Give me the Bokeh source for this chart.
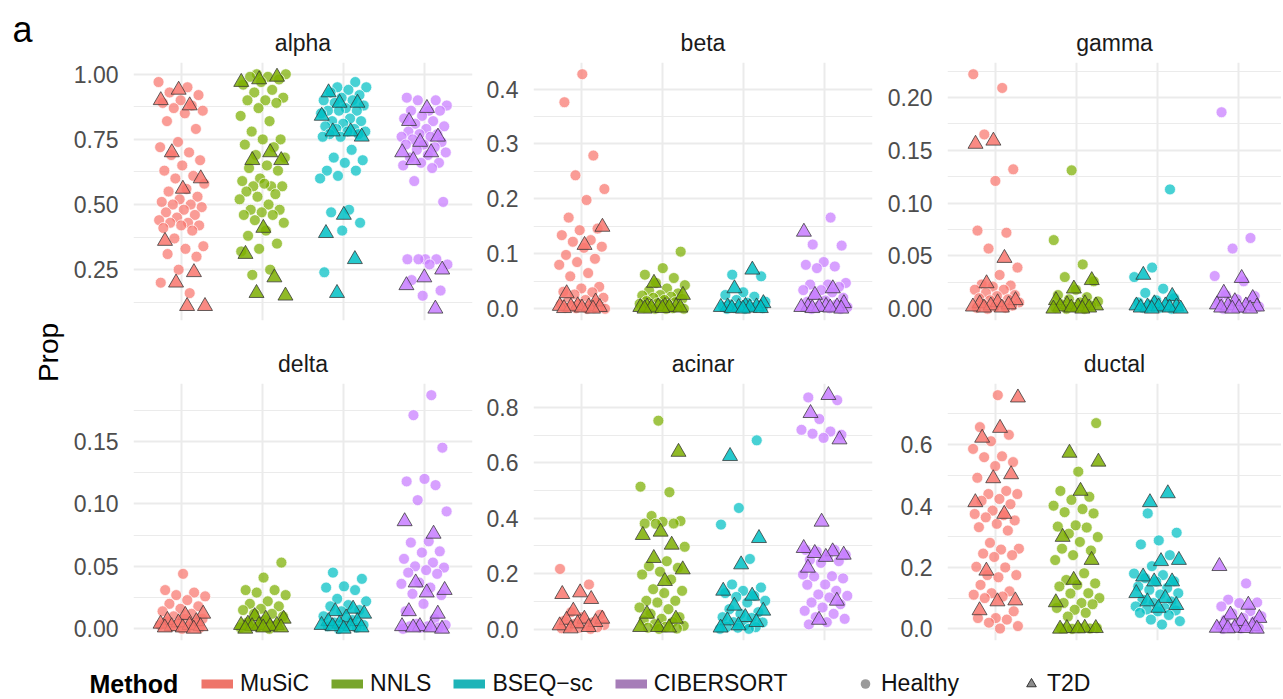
from bokeh.plotting import figure
from bokeh.models import (Range1d, FixedTicker, PrintfTickFormatter, Label, Legend,
                          LegendItem, ColumnDataSource)
from bokeh.layouts import row, column
from bokeh.embed import file_html
from bokeh.resources import INLINE

# ---------------------------------------------------------------- data
methods = ["MuSiC", "NNLS", "BSEQ\u2212sc", "CIBERSORT"]
groups = ["Healthy", "T2D"]
cell_types = ["alpha", "beta", "gamma", "delta", "acinar", "ductal"]

alpha_music_h = [0.97, 0.95, 0.93, 0.92, 0.90, 0.89, 0.88, 0.87, 0.86, 0.85, 0.82, 0.79, 0.74, 0.72, 0.70, 0.69, 0.67, 0.65, 0.63, 0.61, 0.60, 0.58, 0.56, 0.55, 0.53, 0.52, 0.51, 0.50, 0.50, 0.49, 0.48, 0.47, 0.46, 0.45, 0.44, 0.43, 0.43, 0.42, 0.42, 0.41, 0.40, 0.37, 0.34, 0.33, 0.31, 0.30, 0.25, 0.20, 0.16]
alpha_music_t = [0.94, 0.90, 0.88, 0.70, 0.60, 0.56, 0.36, 0.24, 0.20, 0.11, 0.11]
alpha_nnls_h = [1.00, 1.00, 0.99, 0.99, 0.98, 0.97, 0.96, 0.94, 0.93, 0.91, 0.90, 0.90, 0.89, 0.87, 0.84, 0.82, 0.78, 0.75, 0.75, 0.73, 0.72, 0.69, 0.68, 0.65, 0.64, 0.63, 0.60, 0.59, 0.57, 0.57, 0.57, 0.58, 0.55, 0.54, 0.53, 0.52, 0.50, 0.48, 0.48, 0.47, 0.46, 0.46, 0.44, 0.43, 0.40, 0.38, 0.35, 0.33, 0.32, 0.25, 0.23]
alpha_nnls_t = [0.99, 0.98, 0.97, 0.70, 0.67, 0.67, 0.41, 0.31, 0.22, 0.16, 0.15]
alpha_bseq_h = [0.97, 0.95, 0.95, 0.94, 0.93, 0.92, 0.91, 0.90, 0.90, 0.89, 0.88, 0.87, 0.86, 0.86, 0.86, 0.85, 0.83, 0.82, 0.82, 0.81, 0.80, 0.79, 0.79, 0.78, 0.78, 0.77, 0.77, 0.76, 0.76, 0.71, 0.68, 0.67, 0.66, 0.63, 0.63, 0.61, 0.60, 0.48, 0.47, 0.43, 0.40, 0.24]
alpha_bseq_t = [0.93, 0.89, 0.89, 0.84, 0.78, 0.78, 0.76, 0.46, 0.39, 0.29, 0.16]
alpha_cib_h = [0.91, 0.90, 0.90, 0.88, 0.86, 0.86, 0.86, 0.84, 0.83, 0.82, 0.81, 0.80, 0.79, 0.78, 0.77, 0.77, 0.76, 0.76, 0.75, 0.74, 0.73, 0.73, 0.72, 0.71, 0.70, 0.69, 0.68, 0.66, 0.66, 0.65, 0.64, 0.59, 0.51, 0.29, 0.29, 0.29, 0.29, 0.27, 0.27, 0.21, 0.17, 0.15]
alpha_cib_t = [0.87, 0.82, 0.76, 0.74, 0.70, 0.70, 0.67, 0.25, 0.22, 0.19, 0.10]

beta_music_h = [0.427, 0.376, 0.279, 0.243, 0.218, 0.198, 0.166, 0.146, 0.143, 0.134, 0.125, 0.122, 0.113, 0.111, 0.098, 0.091, 0.085, 0.080, 0.065, 0.059, 0.040, 0.037, 0.031, 0.030, 0.026, 0.020, 0.016, 0.013, 0.011, 0.009, 0.008, 0.006, 0.005, 0.004, 0.003, 0.002, 0.001, 0.001, 0.0, 0.0]
beta_music_t = [0.149, 0.116, 0.028, 0.013, 0.006, 0.005, 0.004, 0.004, 0.003, 0.002, 0.001, 0.0]
beta_nnls_h = [0.104, 0.074, 0.062, 0.056, 0.047, 0.043, 0.037, 0.033, 0.028, 0.025, 0.024, 0.022, 0.020, 0.018, 0.016, 0.014, 0.012, 0.010, 0.009, 0.007, 0.005, 0.004, 0.003, 0.002, 0.001, 0.0, 0.0, 0.0]
beta_nnls_t = [0.047, 0.025, 0.005, 0.004, 0.004, 0.004, 0.003, 0.003, 0.002, 0.002, 0.001, 0.0]
beta_bseq_h = [0.062, 0.059, 0.030, 0.025, 0.022, 0.016, 0.013, 0.011, 0.008, 0.006, 0.005, 0.004, 0.003, 0.002, 0.001, 0.0, 0.0]
beta_bseq_t = [0.071, 0.037, 0.010, 0.005, 0.004, 0.004, 0.003, 0.003, 0.002, 0.001, 0.001, 0.0]
beta_cib_h = [0.166, 0.117, 0.115, 0.085, 0.080, 0.077, 0.074, 0.047, 0.044, 0.044, 0.040, 0.034, 0.034, 0.030, 0.025, 0.020, 0.015, 0.013, 0.008, 0.005, 0.003, 0.001, 0.0, 0.0]
beta_cib_t = [0.140, 0.037, 0.025, 0.010, 0.005, 0.004, 0.004, 0.003, 0.003, 0.002, 0.001, 0.0]

gamma_music_h = [0.222, 0.209, 0.165, 0.132, 0.121, 0.074, 0.072, 0.057, 0.039, 0.032, 0.023, 0.022, 0.021, 0.018, 0.018, 0.015, 0.013, 0.012, 0.010, 0.009, 0.008, 0.006, 0.004, 0.004, 0.003, 0.002, 0.001, 0.001, 0.0]
gamma_music_t = [0.159, 0.156, 0.048, 0.024, 0.008, 0.006, 0.005, 0.004, 0.003, 0.002, 0.001, 0.001]
gamma_nnls_h = [0.131, 0.065, 0.042, 0.030, 0.026, 0.018, 0.013, 0.011, 0.009, 0.007, 0.006, 0.004, 0.003, 0.002, 0.001, 0.0, 0.0]
gamma_nnls_t = [0.027, 0.019, 0.008, 0.005, 0.004, 0.003, 0.002, 0.002, 0.001, 0.001, 0.0, 0.0]
gamma_bseq_h = [0.113, 0.039, 0.030, 0.019, 0.015, 0.010, 0.008, 0.006, 0.005, 0.004, 0.002, 0.001, 0.001, 0.0]
gamma_bseq_t = [0.032, 0.012, 0.005, 0.003, 0.003, 0.002, 0.002, 0.002, 0.001, 0.001, 0.0, 0.0]
gamma_cib_h = [0.186, 0.067, 0.057, 0.031, 0.026, 0.013, 0.012, 0.009, 0.007, 0.006, 0.004, 0.002, 0.001, 0.0]
gamma_cib_t = [0.029, 0.015, 0.010, 0.007, 0.004, 0.003, 0.003, 0.002, 0.001, 0.001, 0.0, 0.0]

delta_music_h = [0.044, 0.031, 0.029, 0.027, 0.026, 0.023, 0.020, 0.018, 0.016, 0.014, 0.012, 0.010, 0.008, 0.008, 0.006, 0.005, 0.004, 0.003, 0.002, 0.002, 0.001, 0.0]
delta_music_t = [0.012, 0.011, 0.007, 0.006, 0.005, 0.004, 0.003, 0.002, 0.002, 0.001, 0.001, 0.0]
delta_nnls_h = [0.053, 0.041, 0.031, 0.031, 0.029, 0.027, 0.022, 0.020, 0.018, 0.016, 0.015, 0.012, 0.012, 0.010, 0.007, 0.005, 0.003, 0.002, 0.001, 0.0]
delta_nnls_t = [0.010, 0.008, 0.008, 0.004, 0.003, 0.003, 0.003, 0.002, 0.002, 0.001, 0.001, 0.0]
delta_bseq_h = [0.045, 0.040, 0.034, 0.033, 0.031, 0.024, 0.022, 0.019, 0.018, 0.015, 0.014, 0.010, 0.007, 0.005, 0.003, 0.002, 0.002, 0.001, 0.0]
delta_bseq_t = [0.016, 0.014, 0.012, 0.009, 0.006, 0.006, 0.004, 0.003, 0.002, 0.002, 0.001, 0.0]
delta_cib_h = [0.187, 0.171, 0.145, 0.120, 0.118, 0.115, 0.103, 0.094, 0.070, 0.069, 0.062, 0.061, 0.056, 0.053, 0.050, 0.049, 0.047, 0.045, 0.044, 0.037, 0.036, 0.033, 0.028, 0.027, 0.020, 0.014, 0.008, 0.004, 0.003, 0.002, 0.002, 0.001, 0.001, 0.0]
delta_cib_t = [0.086, 0.076, 0.037, 0.031, 0.029, 0.014, 0.012, 0.002, 0.002, 0.001, 0.001, 0.0]

acinar_music_h = [0.217, 0.161, 0.061, 0.052, 0.043, 0.030, 0.025, 0.020, 0.015, 0.012, 0.008, 0.007, 0.005, 0.003, 0.001]
acinar_music_t = [0.132, 0.126, 0.108, 0.066, 0.037, 0.037, 0.033, 0.025, 0.020, 0.013, 0.007, 0.002]
acinar_nnls_h = [0.752, 0.514, 0.494, 0.408, 0.390, 0.387, 0.381, 0.381, 0.380, 0.297, 0.245, 0.227, 0.221, 0.207, 0.197, 0.179, 0.144, 0.138, 0.130, 0.102, 0.102, 0.096, 0.078, 0.072, 0.055, 0.043, 0.037, 0.031, 0.025, 0.018, 0.012, 0.008, 0.005, 0.002, 0.001]
acinar_nnls_t = [0.639, 0.351, 0.339, 0.304, 0.256, 0.215, 0.173, 0.055, 0.037, 0.007, 0.007, 0.005]
acinar_bseq_h = [0.681, 0.437, 0.377, 0.253, 0.161, 0.150, 0.138, 0.130, 0.120, 0.116, 0.102, 0.096, 0.072, 0.061, 0.055, 0.043, 0.040, 0.025, 0.024, 0.013, 0.008, 0.007, 0.005, 0.001, 0.001]
acinar_bseq_t = [0.624, 0.328, 0.233, 0.138, 0.120, 0.084, 0.066, 0.043, 0.031, 0.025, 0.013, 0.005]
acinar_cib_h = [0.836, 0.826, 0.758, 0.719, 0.713, 0.705, 0.701, 0.690, 0.286, 0.286, 0.280, 0.268, 0.262, 0.250, 0.245, 0.239, 0.197, 0.191, 0.190, 0.183, 0.161, 0.160, 0.138, 0.125, 0.120, 0.114, 0.096, 0.090, 0.078, 0.066, 0.055, 0.043, 0.037, 0.025, 0.017]
acinar_cib_t = [0.844, 0.779, 0.684, 0.387, 0.292, 0.280, 0.274, 0.268, 0.260, 0.221, 0.102, 0.033]

ductal_music_h = [0.761, 0.657, 0.632, 0.611, 0.586, 0.562, 0.559, 0.543, 0.530, 0.492, 0.449, 0.439, 0.439, 0.423, 0.417, 0.406, 0.385, 0.374, 0.370, 0.363, 0.353, 0.342, 0.331, 0.320, 0.280, 0.261, 0.258, 0.245, 0.240, 0.234, 0.202, 0.200, 0.175, 0.175, 0.168, 0.143, 0.122, 0.116, 0.111, 0.105, 0.100, 0.057, 0.035, 0.035, 0.030, 0.020, 0.009, 0.001]
ductal_music_t = [0.753, 0.654, 0.622, 0.503, 0.490, 0.412, 0.374, 0.189, 0.092, 0.089, 0.060]
ductal_nnls_h = [0.670, 0.512, 0.449, 0.430, 0.420, 0.401, 0.390, 0.380, 0.376, 0.337, 0.333, 0.330, 0.310, 0.299, 0.283, 0.261, 0.255, 0.240, 0.224, 0.181, 0.159, 0.148, 0.143, 0.138, 0.116, 0.115, 0.100, 0.084, 0.084, 0.080, 0.062, 0.068, 0.052, 0.040, 0.003, 0.003, 0.002, 0.001, 0.0]
ductal_nnls_t = [0.573, 0.544, 0.449, 0.299, 0.224, 0.159, 0.086, 0.003, 0.002, 0.002, 0.001, 0.0]
ductal_bseq_h = [0.376, 0.313, 0.288, 0.275, 0.240, 0.204, 0.180, 0.175, 0.165, 0.155, 0.154, 0.138, 0.133, 0.127, 0.116, 0.112, 0.095, 0.089, 0.084, 0.073, 0.068, 0.063, 0.060, 0.057, 0.052, 0.045, 0.030, 0.025, 0.014]
ductal_bseq_t = [0.441, 0.412, 0.224, 0.220, 0.170, 0.154, 0.154, 0.116, 0.100, 0.089, 0.077, 0.068]
ductal_cib_h = [0.148, 0.095, 0.086, 0.084, 0.073, 0.057, 0.050, 0.041, 0.035, 0.030, 0.025, 0.014, 0.010, 0.008, 0.004, 0.003, 0.001, 0.0]
ductal_cib_t = [0.204, 0.078, 0.046, 0.035, 0.025, 0.014, 0.009, 0.003, 0.003, 0.002, 0.001, 0.0]

# y ticks (major / minor) and tick label formats per facet
alpha_ticks, alpha_minor = [0.25, 0.50, 0.75, 1.00], [0.125, 0.375, 0.625, 0.875]
beta_ticks, beta_minor = [0.0, 0.1, 0.2, 0.3, 0.4], [0.05, 0.15, 0.25, 0.35]
gamma_ticks, gamma_minor = [0.0, 0.05, 0.10, 0.15, 0.20], [0.025, 0.075, 0.125, 0.175, 0.225]
delta_ticks, delta_minor = [0.0, 0.05, 0.10, 0.15], [0.025, 0.075, 0.125, 0.175]
acinar_ticks, acinar_minor = [0.0, 0.2, 0.4, 0.6, 0.8], [0.1, 0.3, 0.5, 0.7]
ductal_ticks, ductal_minor = [0.0, 0.2, 0.4, 0.6], [0.1, 0.3, 0.5, 0.7]
tick_formats = ["%.2f", "%.1f", "%.2f", "%.2f", "%.1f", "%.1f"]

# ---------------------------------------------------------------- tables built from the lists
data = {
    "alpha": [(alpha_music_h, alpha_music_t), (alpha_nnls_h, alpha_nnls_t), (alpha_bseq_h, alpha_bseq_t), (alpha_cib_h, alpha_cib_t)],
    "beta": [(beta_music_h, beta_music_t), (beta_nnls_h, beta_nnls_t), (beta_bseq_h, beta_bseq_t), (beta_cib_h, beta_cib_t)],
    "gamma": [(gamma_music_h, gamma_music_t), (gamma_nnls_h, gamma_nnls_t), (gamma_bseq_h, gamma_bseq_t), (gamma_cib_h, gamma_cib_t)],
    "delta": [(delta_music_h, delta_music_t), (delta_nnls_h, delta_nnls_t), (delta_bseq_h, delta_bseq_t), (delta_cib_h, delta_cib_t)],
    "acinar": [(acinar_music_h, acinar_music_t), (acinar_nnls_h, acinar_nnls_t), (acinar_bseq_h, acinar_bseq_t), (acinar_cib_h, acinar_cib_t)],
    "ductal": [(ductal_music_h, ductal_music_t), (ductal_nnls_h, ductal_nnls_t), (ductal_bseq_h, ductal_bseq_t), (ductal_cib_h, ductal_cib_t)],
}
ticks = {
    "alpha": (alpha_ticks, alpha_minor), "beta": (beta_ticks, beta_minor),
    "gamma": (gamma_ticks, gamma_minor), "delta": (delta_ticks, delta_minor),
    "acinar": (acinar_ticks, acinar_minor), "ductal": (ductal_ticks, ductal_minor),
}

# ---------------------------------------------------------------- style
COLORS = ["#F8766D", "#7CAE00", "#00BFC4", "#C77CFF"]
KEY_COLORS = ["#EE756A", "#78A52B", "#1DB4B8", "#A67DB8"]
FONT = "Liberation Sans"
GRID = "#EBEBEB"
NAN = float("nan")


def jitter_offsets(n, seed, half_width=0.29):
    # deterministic, evenly spread horizontal jitter (layout only)
    out = []
    for i in range(n):
        f = (seed + i * 0.6180339887) % 1.0
        out.append((f - 0.5) * 2 * half_width)
    return out


# column geometry: (figure width, left border, right border, x end)
COLS = [(410, 65, 6, 4.6), (402, 55, 8, 4.6), (401, 67, 0, 0.4 + 334 / (339 / 4.2))]
ROWS = [(330, 62), (320, 53)]


def make_facet(idx):
    ct = cell_types[idx]
    rowi, coli = divmod(idx, 3)
    w, bl, br, xend = COLS[coli]
    h, bt = ROWS[rowi]
    allv = [v for pair in data[ct] for grp in pair for v in grp]
    lo, hi = min(allv), max(allv)
    pad = 0.05 * (hi - lo)
    p = figure(width=w, height=h, min_border_left=bl, min_border_right=br,
               min_border_top=bt, min_border_bottom=10,
               x_range=Range1d(0.4, xend), y_range=Range1d(lo - pad, hi + pad),
               x_axis_location=None, title=ct,
               output_backend="svg", toolbar_location=None)
    p.outline_line_color = None
    p.title.align = "center"
    p.title.text_font = FONT
    p.title.text_font_size = "23px"
    p.title.text_font_style = "normal"
    p.title.text_color = "#1A1A1A"
    p.title.standoff = 14

    maj, mnr = ticks[ct]
    yt = FixedTicker(ticks=maj, minor_ticks=mnr)
    ax = p.yaxis[0]
    ax.ticker = yt
    ax.formatter = PrintfTickFormatter(format=tick_formats[idx])
    ax.axis_line_color = None
    ax.major_tick_line_color = None
    ax.minor_tick_line_color = None
    ax.major_tick_out = 0
    ax.major_tick_in = 0
    ax.minor_tick_out = 0
    ax.minor_tick_in = 0
    ax.major_label_standoff = 15
    ax.major_label_text_font = FONT
    ax.major_label_text_font_size = "23px"
    ax.major_label_text_color = "#4D4D4D"

    p.ygrid.ticker = yt
    p.ygrid.grid_line_color = GRID
    p.ygrid.grid_line_width = 2
    p.ygrid.minor_grid_line_color = GRID
    p.ygrid.minor_grid_line_width = 1
    p.xgrid.ticker = FixedTicker(ticks=[1, 2, 3, 4])
    p.xgrid.grid_line_color = GRID
    p.xgrid.grid_line_width = 2

    for mi, m in enumerate(methods):
        hv, tv = data[ct][mi]
        seed = ((idx * 4 + mi) * 0.377) % 1.0
        sh = ColumnDataSource(dict(x=[mi + 1 + o for o in jitter_offsets(len(hv), seed)], y=hv))
        st = ColumnDataSource(dict(x=[mi + 1 + o for o in jitter_offsets(len(tv), (seed + 0.43) % 1.0)], y=tv))
        p.scatter("x", "y", source=sh, marker="circle", size=11,
                  fill_color=COLORS[mi], fill_alpha=0.72,
                  line_color="white", line_width=0.8, line_alpha=0.9)
        p.scatter("x", "y", source=st, marker="triangle", size=15,
                  fill_color=COLORS[mi], fill_alpha=0.85,
                  line_color="#333333", line_alpha=0.75, line_width=1)
    return p


facets = [make_facet(i) for i in range(6)]

# ---------------------------------------------------------------- left strip: panel tag and y title
LH = 650
lp = figure(width=68, height=LH, x_range=Range1d(0, 68), y_range=Range1d(0, LH),
            min_border=0, x_axis_location=None, y_axis_location=None,
            output_backend="svg", toolbar_location=None)
lp.outline_line_color = None
lp.grid.visible = False
lp.add_layout(Label(x=12, y=LH - 29, text="a", text_font=FONT, text_font_size="36px",
                    text_color="#000000", text_baseline="alphabetic"))
lp.add_layout(Label(x=48, y=LH - 352, text="Prop", angle=90, angle_units="deg",
                    text_font=FONT, text_font_size="28px", text_color="#000000",
                    text_align="center", text_baseline="middle"))

# ---------------------------------------------------------------- legend strip
LW, LHT = 1281, 47
lf = figure(width=LW, height=LHT, x_range=Range1d(0, LW), y_range=Range1d(0, LHT),
            min_border=0, x_axis_location=None, y_axis_location=None,
            output_backend="svg", toolbar_location=None)
lf.outline_line_color = None
lf.grid.visible = False

m_items = []
for m, c in zip(methods, KEY_COLORS):
    r = lf.line(x=[NAN], y=[NAN], line_color=c, line_width=9)
    m_items.append(LegendItem(label=m, renderers=[r]))
leg1 = Legend(items=m_items, orientation="horizontal", location=(201, 0),
              glyph_width=32, glyph_height=27, label_standoff=7, spacing=22,
              padding=0, margin=0, border_line_color=None, background_fill_alpha=0,
              label_text_font=FONT, label_text_font_size="23px", label_text_color="#111111")
lf.add_layout(leg1)

rh = lf.scatter(x=[NAN], y=[NAN], marker="circle", fill_color="#9A9A9A", line_color=None)
rt = lf.scatter(x=[NAN], y=[NAN], marker="triangle", fill_color="#8C8C8C",
                line_color="#333333", line_width=1)
leg2 = Legend(items=[LegendItem(label=groups[0], renderers=[rh]),
                     LegendItem(label=groups[1], renderers=[rt])],
              orientation="horizontal", location=(853, 0),
              glyph_width=24, glyph_height=27, label_standoff=4, spacing=60,
              padding=0, margin=0, border_line_color=None, background_fill_alpha=0,
              label_text_font=FONT, label_text_font_size="23px", label_text_color="#111111")
lf.add_layout(leg2)
lf.add_layout(Label(x=89, y=14, text="Method", text_font=FONT, text_font_size="25px",
                    text_font_style="bold", text_color="#000000", text_baseline="middle"))

grid = column(row(facets[0], facets[1], facets[2]), row(facets[3], facets[4], facets[5]))
layout = column(row(lp, grid), lf)

open("out.html", "w").write(file_html(layout, INLINE))
